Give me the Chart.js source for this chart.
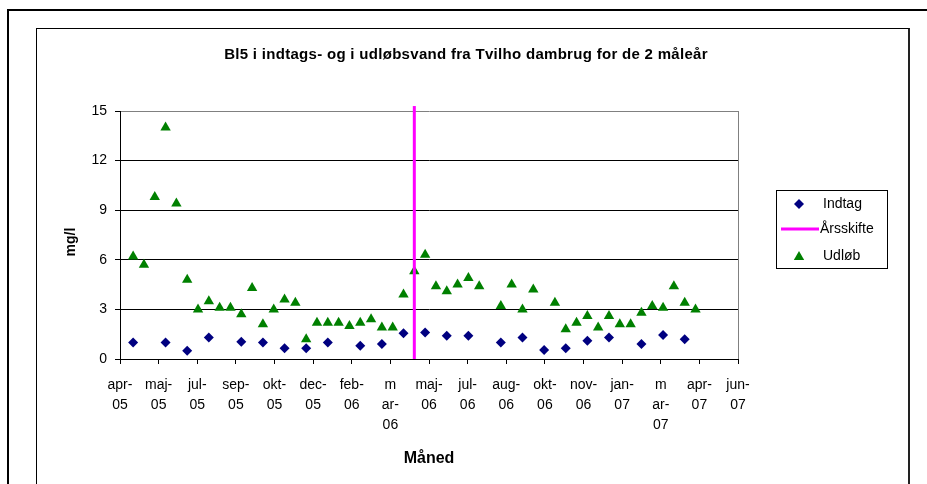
<!DOCTYPE html>
<html>
<head>
<meta charset="utf-8">
<script src="https://cdn.jsdelivr.net/npm/chart.js@4.4.0/dist/chart.umd.min.js"></script>
<style>
  html, body { margin: 0; padding: 0; background: #fff; }
  #wrap { position: relative; width: 927px; height: 484px; overflow: hidden; background: #fff; }
  #outer { position: absolute; left: 7px; top: 9px; width: 940px; height: 500px; border-top: 2px solid #000; border-left: 2px solid #000; }
  #inner { position: absolute; left: 36px; top: 28px; width: 871px; height: 500px; border: 1px solid #000; border-right: 2px solid #222; }
  canvas { position: absolute; left: 0; top: 0; }
</style>
</head>
<body>
<div id="wrap">
  <div id="outer"></div>
  <div id="inner"></div>
  <canvas id="chart" width="927" height="484"></canvas>
</div>
<script>
// --- data ---
const chartTitle = 'Bl5 i indtags- og i udløbsvand fra Tvilho dambrug for de 2 måleår';
const axisStart = '2005-04-08';   // x axis starts here, a tick every 50 days
const tickStepDays = 50;
const xTickLabels = [
  ['apr-', '05'], ['maj-', '05'], ['jul-', '05'], ['sep-', '05'], ['okt-', '05'],
  ['dec-', '05'], ['feb-', '06'], ['m', 'ar-', '06'], ['maj-', '06'], ['jul-', '06'],
  ['aug-', '06'], ['okt-', '06'], ['nov-', '06'], ['jan-', '07'], ['m', 'ar-', '07'],
  ['apr-', '07'], ['jun-', '07']
];

const indtagDates = [
  '2005-04-25', '2005-06-06', '2005-07-04', '2005-08-01', '2005-09-12', '2005-10-10',
  '2005-11-07', '2005-12-05', '2006-01-02', '2006-02-13', '2006-03-13', '2006-04-10',
  '2006-05-08', '2006-06-05', '2006-07-03', '2006-08-14', '2006-09-11', '2006-10-09',
  '2006-11-06', '2006-12-04', '2007-01-01', '2007-02-12', '2007-03-12', '2007-04-09'
];
const indtagValues = [
  1.0, 1.0, 0.5, 1.3, 1.05, 1.0,
  0.65, 0.65, 1.0, 0.8, 0.9, 1.55,
  1.6, 1.4, 1.4, 1.0, 1.3, 0.55,
  0.65, 1.1, 1.3, 0.9, 1.45, 1.2
];

const udlobDates = [
  '2005-04-25', '2005-05-09', '2005-05-23', '2005-06-06', '2005-06-20', '2005-07-04',
  '2005-07-18', '2005-08-01', '2005-08-15', '2005-08-29', '2005-09-12', '2005-09-26',
  '2005-10-10', '2005-10-24', '2005-11-07', '2005-11-21', '2005-12-05', '2005-12-19',
  '2006-01-02', '2006-01-16', '2006-01-30', '2006-02-13', '2006-02-27', '2006-03-13',
  '2006-03-27', '2006-04-10', '2006-04-24', '2006-05-08', '2006-05-22', '2006-06-05',
  '2006-06-19', '2006-07-03', '2006-07-17', '2006-08-14', '2006-08-28', '2006-09-11',
  '2006-09-25', '2006-10-23', '2006-11-06', '2006-11-20', '2006-12-04', '2006-12-18',
  '2007-01-01', '2007-01-15', '2007-01-29', '2007-02-12', '2007-02-26', '2007-03-12',
  '2007-03-26', '2007-04-09', '2007-04-23'
];
const udlobValues = [
  6.2, 5.7, 9.8, 14.0, 9.4, 4.8,
  3.0, 3.5, 3.1, 3.1, 2.7, 4.3,
  2.1, 3.0, 3.6, 3.4, 1.2, 2.2,
  2.2, 2.2, 2.0, 2.2, 2.4, 1.9,
  1.9, 3.9, 5.3, 6.3, 4.4, 4.1,
  4.5, 4.9, 4.4, 3.2, 4.5, 3.0,
  4.2, 3.4, 1.8, 2.2, 2.6, 1.9,
  2.6, 2.1, 2.1, 2.8, 3.2, 3.1,
  4.4, 3.4, 3.0
];

const yearChangeDate = '2006-04-24';
const yearChangeY = [0, 15.3];

// dage fra aksens start
function dayNo(s) {
  return (Date.parse(s) - Date.parse(axisStart)) / 86400000;
}
function toPoints(dates, values) {
  return dates.map((d, i) => ({ x: dayNo(d), y: values[i] }));
}

const FONT = '"Liberation Sans", Arial, sans-serif';
const NAVY = '#000080', GREEN = '#008000', MAGENTA = '#ff00ff';

function drawDiamond(ctx, x, y, r) {
  ctx.beginPath();
  ctx.moveTo(x, y - r); ctx.lineTo(x + r, y); ctx.lineTo(x, y + r); ctx.lineTo(x - r, y);
  ctx.closePath(); ctx.fill();
}
function drawTriangle(ctx, x, y, r) {
  ctx.beginPath();
  ctx.moveTo(x, y - r); ctx.lineTo(x + r * 0.866, y + r / 2); ctx.lineTo(x - r * 0.866, y + r / 2);
  ctx.closePath(); ctx.fill();
}

// titel, y-titel og forklaring
const decorPlugin = {
  id: 'decor',
  afterDraw(chart) {
    const ctx = chart.ctx;
    ctx.save();
    ctx.fillStyle = '#000';
    ctx.textAlign = 'center';
    ctx.textBaseline = 'middle';
    ctx.font = 'bold 15px ' + FONT;
    if ('letterSpacing' in ctx) ctx.letterSpacing = '0.3px';
    ctx.fillText(chartTitle, 466, 55);
    if ('letterSpacing' in ctx) ctx.letterSpacing = '0px';

    ctx.save();
    ctx.translate(71, 242);
    ctx.rotate(-Math.PI / 2);
    ctx.font = 'bold 14px ' + FONT;
    ctx.fillText('mg/l', 0, 0);
    ctx.restore();

    // legend box
    ctx.strokeStyle = '#000';
    ctx.lineWidth = 1;
    ctx.strokeRect(776.5, 190.5, 111, 78);
    ctx.font = '14px ' + FONT;
    ctx.textAlign = 'left';
    ctx.fillStyle = NAVY;
    drawDiamond(ctx, 799, 204, 5);
    ctx.strokeStyle = MAGENTA;
    ctx.lineWidth = 3;
    ctx.beginPath(); ctx.moveTo(781, 229); ctx.lineTo(819, 229); ctx.stroke();
    ctx.fillStyle = GREEN;
    drawTriangle(ctx, 799, 257, 6);
    ctx.fillStyle = '#000';
    ctx.fillText('Indtag', 823, 204);
    ctx.fillText('Årsskifte', 820, 229);
    ctx.fillText('Udløb', 823, 256);
    ctx.restore();
  }
};

new Chart(document.getElementById('chart'), {
  type: 'scatter',
  data: {
    datasets: [
      {
        label: 'Indtag',
        data: toPoints(indtagDates, indtagValues),
        pointStyle: 'rectRot',
        pointRadius: 5,
        backgroundColor: NAVY,
        borderColor: NAVY,
        borderWidth: 0
      },
      {
        label: 'Årsskifte',
        type: 'line',
        data: yearChangeY.map(v => ({ x: dayNo(yearChangeDate), y: v })),
        borderColor: MAGENTA,
        borderWidth: 3,
        pointRadius: 0,
        fill: false,
        clip: false
      },
      {
        label: 'Udløb',
        data: toPoints(udlobDates, udlobValues),
        pointStyle: 'triangle',
        pointRadius: 6,
        backgroundColor: GREEN,
        borderColor: GREEN,
        borderWidth: 0
      }
    ]
  },
  options: {
    responsive: false,
    animation: false,
    layout: { padding: { top: 111, left: 0, right: 189, bottom: 0 } },
    plugins: {
      legend: { display: false },
      tooltip: { enabled: false }
    },
    scales: {
      x: {
        type: 'linear',
        min: 0,
        max: tickStepDays * (xTickLabels.length - 1),
        afterFit: s => { s.height = 125; },
        border: { color: '#000', width: 1 },
        grid: {
          color: c => (c.index === xTickLabels.length - 1 ? '#808080' : 'rgba(0,0,0,0)'),
          tickColor: '#000',
          tickLength: 5
        },
        ticks: {
          stepSize: tickStepDays,
          autoSkip: false,
          maxRotation: 0,
          padding: 11,
          color: '#000',
          font: { family: FONT, size: 14, lineHeight: 1.43 },
          callback: v => xTickLabels[Math.round(v / tickStepDays)]
        },
        title: {
          display: true,
          text: 'Måned',
          color: '#000',
          font: { family: FONT, size: 16, weight: 'bold' },
          padding: { top: 0, bottom: 16 }
        }
      },
      y: {
        min: 0,
        max: 15,
        afterFit: s => { s.width = 120; },
        border: { color: '#000', width: 1 },
        grid: {
          color: c => (c.tick && c.tick.value === 15 ? '#808080' : '#000'),
          tickColor: '#000',
          tickLength: 5
        },
        ticks: {
          stepSize: 3,
          padding: 8,
          color: '#000',
          font: { family: FONT, size: 14 }
        }
      }
    }
  },
  plugins: [decorPlugin]
});
</script>
</body>
</html>
